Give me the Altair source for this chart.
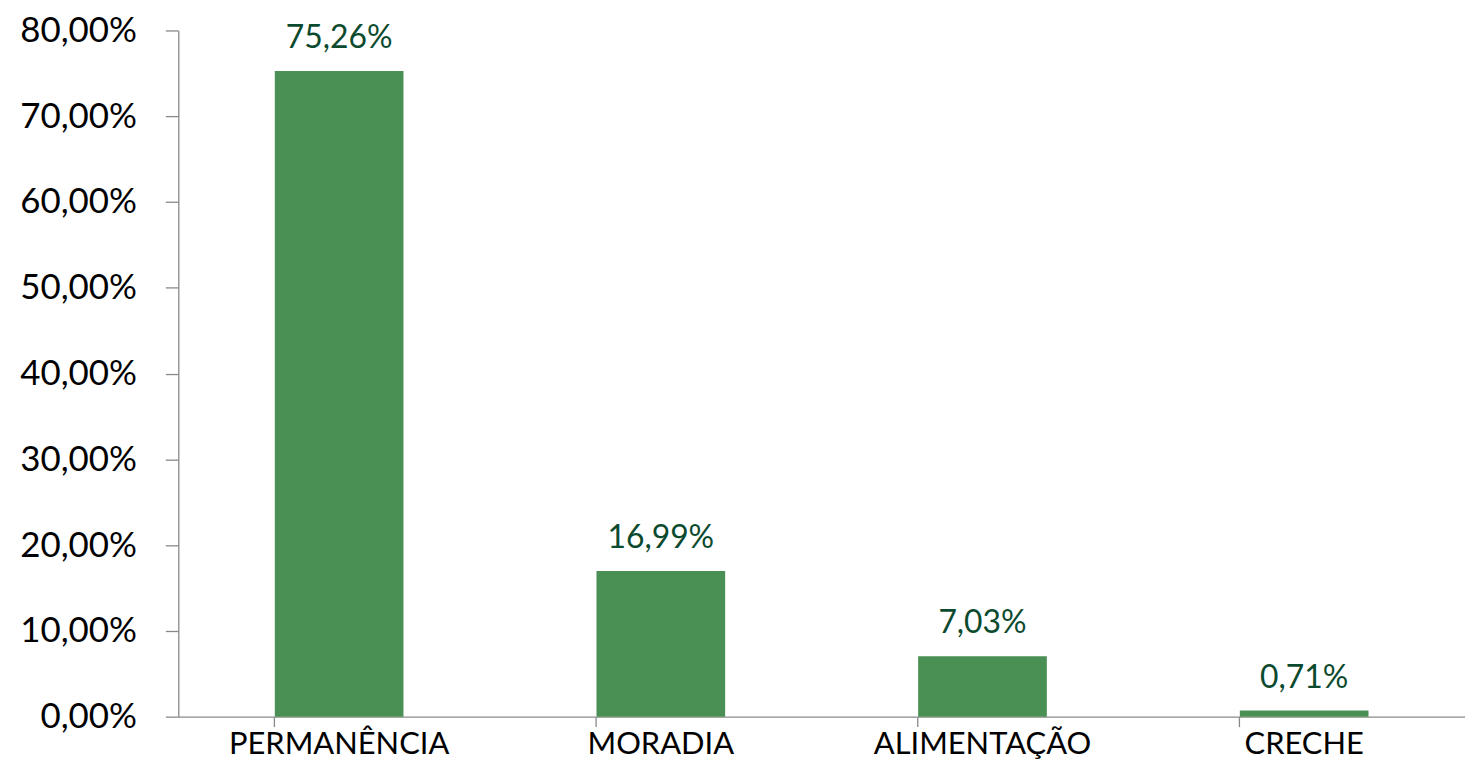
import altair as alt
import pandas as pd

categories = ["PERMANÊNCIA", "MORADIA", "ALIMENTAÇÃO", "CRECHE"]
values = [0.7526, 0.1699, 0.0703, 0.0071]
y_ticks = [0, 0.1, 0.2, 0.3, 0.4, 0.5, 0.6, 0.7, 0.8]

df = pd.DataFrame({"cat": categories, "val": values})
df["label"] = [f"{v*100:.2f}%".replace(".", ",") for v in values]

x_scale = alt.Scale(domain=categories, paddingInner=0.6, paddingOuter=0.3)
y_scale = alt.Scale(domain=[0, 0.8], nice=False)

base = alt.Chart(df)

bars = base.mark_bar(color="#4A8F53").encode(
    x=alt.X("cat:N", scale=x_scale, sort=categories, title=None,
            axis=alt.Axis(orient="bottom", labelAngle=0, ticks=False, domain=False,
                          labelFont="Lato", labelFontSize=31, labelColor="#000000",
                          labelBaseline="bottom", labelPadding=44, labelLimit=0)),
    y=alt.Y("val:Q", scale=y_scale, title=None,
            axis=alt.Axis(values=y_ticks, labelExpr="replace(format(datum.value, '.2%'), '.', ',')",
                          labelFont="Lato", labelFontSize=35, labelColor="#000000",
                          labelPadding=29, tickSize=13, tickColor="#898989",
                          domainColor="#898989", grid=False, domainWidth=1.3, tickWidth=1.3)),
)

labels = base.mark_text(font="Lato", fontSize=32, color="#0B4A2E",
                        baseline="alphabetic", dy=-23).encode(
    x=alt.X("cat:N", scale=x_scale, sort=categories, title=None,
            axis=alt.Axis(orient="bottom", labels=False, bandPosition=0, tickSize=10,
                          tickColor="#898989", domainColor="#898989",
                          domainWidth=1.3, tickWidth=1.3)),
    y=alt.Y("val:Q", scale=y_scale),
    text="label:N",
)

chart = alt.layer(bars, labels).resolve_axis(x="independent").properties(
    width=1292, height=689,
    autosize=alt.AutoSizeParams(type="none"),
    padding={"left": 171, "top": 21, "right": 0, "bottom": 45},
).configure_view(stroke=None).configure_axis(labelFlush=False)

chart.save("out.html", embed_options={"renderer": "svg", "actions": False})
